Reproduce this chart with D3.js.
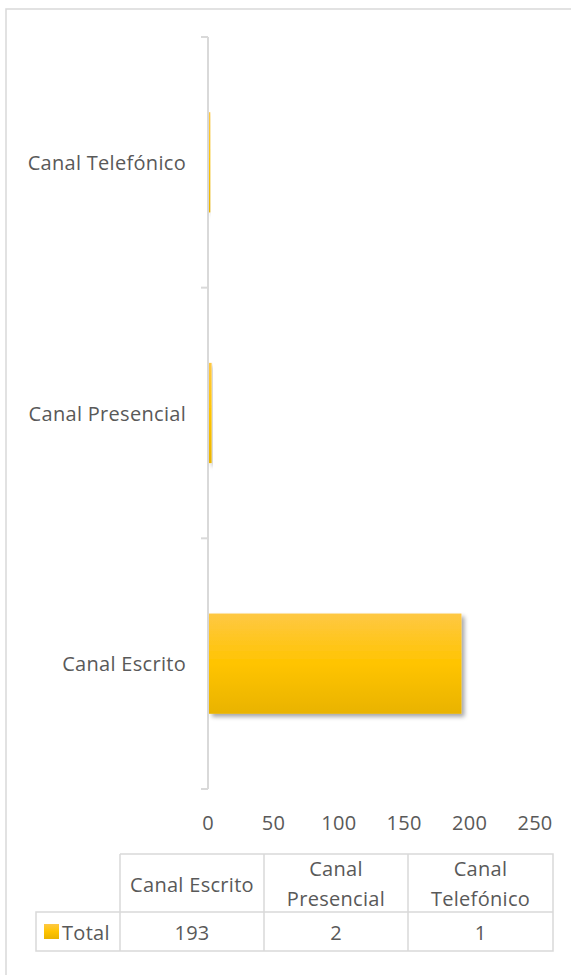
<!DOCTYPE html>
<html>
<head>
<meta charset="utf-8">
<script src="https://cdn.jsdelivr.net/npm/d3@7"></script>
<style>
  html, body { margin: 0; padding: 0; background: #fff; }
  svg { display: block; }
  text { font-family: "Open Sans", Lato, sans-serif; fill: #595959; letter-spacing: 0.3px; }
</style>
</head>
<body>
<svg id="chart" width="571" height="975"></svg>
<script>
// Channel totals
const categories = ["Canal Escrito", "Canal Presencial", "Canal Telefónico"];
const totals = [193, 2, 1];
const seriesName = "Total";
const xTicks = [0, 50, 100, 150, 200, 250];

const svg = d3.select("#chart");
const fontSize = 20;

// Frame of the chart area
svg.append("rect")
  .attr("x", 6).attr("y", 9)
  .attr("width", 600).attr("height", 1000)
  .attr("fill", "#fff")
  .attr("stroke", "#d9d9d9").attr("stroke-width", 1.5);

const defs = svg.append("defs");
const grad = defs.append("linearGradient")
  .attr("id", "barFill").attr("x1", 0).attr("y1", 0).attr("x2", 0).attr("y2", 1);
grad.append("stop").attr("offset", "0%").attr("stop-color", "#FEC844");
grad.append("stop").attr("offset", "50%").attr("stop-color", "#FFC400");
grad.append("stop").attr("offset", "100%").attr("stop-color", "#E9B300");

const shadow = defs.append("filter").attr("id", "barShadow")
  .attr("x", "-20%").attr("y", "-20%").attr("width", "150%").attr("height", "150%");
shadow.append("feDropShadow")
  .attr("dx", 3).attr("dy", 3).attr("stdDeviation", 2)
  .attr("flood-color", "#000").attr("flood-opacity", 0.35);

// Scales: first category sits at the bottom
const x = d3.scaleLinear().domain([0, 250]).range([208, 535]);
const y = d3.scaleBand()
  .domain(categories.slice().reverse())
  .range([37, 789])
  .paddingInner(0.6).paddingOuter(0.3);

// Category axis with ticks on the band boundaries
const axisG = svg.append("g");
const step = y.step();
const boundaries = d3.range(categories.length + 1).map(i => 37 + i * step);
axisG.append("line")
  .attr("x1", x(0)).attr("x2", x(0))
  .attr("y1", 37).attr("y2", 789)
  .attr("stroke", "#d9d9d9").attr("stroke-width", 2);
axisG.selectAll("line.tick").data(boundaries).join("line")
  .attr("class", "tick")
  .attr("x1", x(0) - 7).attr("x2", x(0))
  .attr("y1", d => d).attr("y2", d => d)
  .attr("stroke", "#d9d9d9").attr("stroke-width", 2);
axisG.selectAll("text.cat").data(categories).join("text")
  .attr("class", "cat")
  .attr("x", 186)
  .attr("y", d => y(d) + y.bandwidth() / 2)
  .attr("text-anchor", "end")
  .attr("dominant-baseline", "central")
  .attr("font-size", fontSize)
  .text(d => d);

// Bars
svg.append("g").selectAll("rect").data(categories).join("rect")
  .attr("x", x(0) + 1)
  .attr("y", d => y(d))
  .attr("width", (d, i) => x(totals[i]) - x(0))
  .attr("height", y.bandwidth())
  .attr("fill", "url(#barFill)")
  .attr("filter", "url(#barShadow)");

// Value axis labels
svg.append("g").selectAll("text").data(xTicks).join("text")
  .attr("x", d => x(d))
  .attr("y", 822)
  .attr("text-anchor", "middle")
  .attr("dominant-baseline", "central")
  .attr("font-size", fontSize)
  .text(d => d);

// Data table
const colEdges = [120, 264, 408, 553];
const headTop = 854, rowTop = 912, rowBottom = 951, legendLeft = 36;
const border = "#d9d9d9";
const table = svg.append("g");

table.append("path")
  .attr("d",
    `M${colEdges[0]},${headTop}H${colEdges[3]}V${rowBottom}H${legendLeft}V${rowTop}H${colEdges[3]}` +
    `M${colEdges[0]},${headTop}V${rowBottom}` +
    `M${colEdges[1]},${headTop}V${rowBottom}` +
    `M${colEdges[2]},${headTop}V${rowBottom}`)
  .attr("fill", "none").attr("stroke", border).attr("stroke-width", 1.5);

categories.forEach((c, i) => {
  const cx = (colEdges[i] + colEdges[i + 1]) / 2;
  const t = table.append("text")
    .attr("x", cx).attr("text-anchor", "middle")
    .attr("font-size", fontSize)
    .text(c);
  const avail = colEdges[i + 1] - colEdges[i] - 12;
  if (t.node().getComputedTextLength() > avail) {
    const words = c.split(" ");
    t.text(null);
    t.append("tspan").attr("x", cx).attr("y", 868).attr("dominant-baseline", "central").text(words[0]);
    t.append("tspan").attr("x", cx).attr("y", 898).attr("dominant-baseline", "central").text(words.slice(1).join(" "));
  } else {
    t.attr("y", 884).attr("dominant-baseline", "central");
  }
  table.append("text")
    .attr("x", cx).attr("y", 932)
    .attr("text-anchor", "middle").attr("dominant-baseline", "central")
    .attr("font-size", fontSize)
    .text(totals[i]);
});

// Series key in the row header
table.append("rect")
  .attr("x", 44).attr("y", 924).attr("width", 15).attr("height", 15)
  .attr("fill", "url(#barFill)");
table.append("text")
  .attr("x", 62).attr("y", 932)
  .attr("dominant-baseline", "central")
  .attr("font-size", fontSize)
  .text(seriesName);
</script>
</body>
</html>
